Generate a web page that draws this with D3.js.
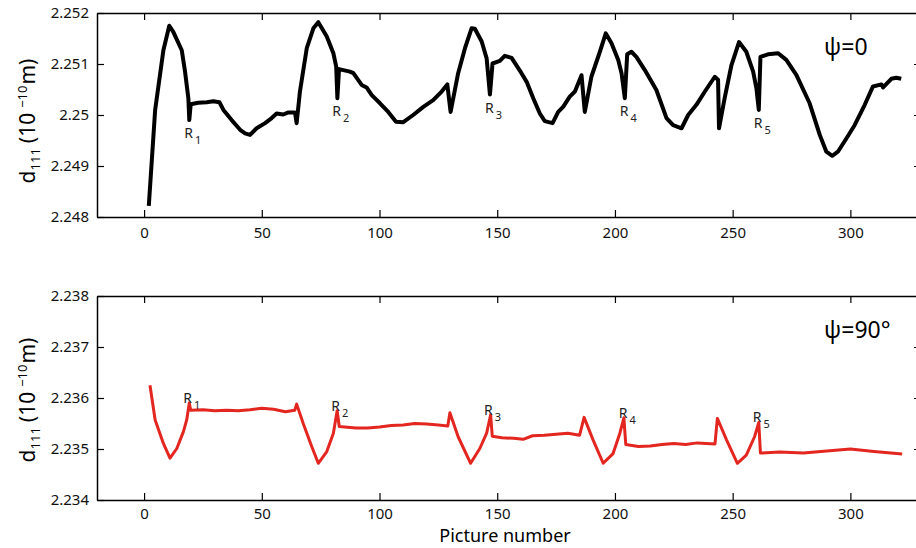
<!DOCTYPE html>
<html>
<head>
<meta charset="utf-8">
<script src="https://cdn.jsdelivr.net/npm/d3@7"></script>
<style>
  html, body { margin: 0; padding: 0; background: #fff; }
  svg { display: block; font-family: "Noto Sans", "DejaVu Sans", sans-serif; }
</style>
</head>
<body>
<svg id="chart" width="916" height="548"></svg>
<script>
// ---------- DATA ----------
const xTicks = [0, 50, 100, 150, 200, 250, 300];
const topYTicks = [2.248, 2.249, 2.25, 2.251, 2.252];
const botYTicks = [2.234, 2.235, 2.236, 2.237, 2.238];

// psi = 0 series (picture number, d111)
const topPics = [2, 4.7, 8.2, 10.7, 12.4, 16, 17.4, 18.8, 19.2, 19.8, 23, 26.6, 29.4, 32, 33.7, 37.2, 40.8, 42.9, 45, 47.8,
  51.4, 54.2, 56.3, 59.1, 61.3, 64.1, 64.8, 66.2, 69.1, 71.9, 74, 77.6, 80.4, 81.6, 82.1, 82.8, 87.4, 88.9, 92.4, 94.5,
  96.7, 100.2, 103.7, 107, 110.1, 114.3, 118.6, 122.8, 126.4, 128.8, 130.2, 133.4, 136.3, 139.1, 140.5, 143.4, 145.5, 146.9, 148, 151.1,
  153.2, 156.1, 160.3, 162.5, 165.3, 168.1, 170.2, 173.5, 175.9, 178, 180.8, 183, 185.8, 187.2, 190, 193.6, 196.1, 198.5, 201.4, 202.8,
  204.2, 205.2, 207, 209.1, 212.7, 217.6, 221.9, 224.7, 228.3, 231.1, 234.6, 238.2, 242.4, 243.8, 244.2, 246.6, 249.5, 252.7, 255.8, 258.7,
  260.1, 261.1, 261.8, 265, 269.3, 272.8, 277.1, 282.7, 287, 289.8, 292.3, 294.7, 298.3, 301.8, 306.1, 309.6, 313.2, 313.9, 317.4, 319.5, 321.6];
const topVals = [2.24822, 2.2501, 2.25127, 2.25175, 2.25163, 2.25127, 2.25085, 2.25033, 2.2499, 2.25021, 2.25024, 2.25025, 2.25027, 2.25025, 2.2501, 2.2499, 2.24971, 2.24964, 2.24961, 2.24974,
  2.24984, 2.24994, 2.25003, 2.25001, 2.25005, 2.25005, 2.24984, 2.25046, 2.25131, 2.2517, 2.25182, 2.25154, 2.25121, 2.25095, 2.25033, 2.2509, 2.25085, 2.25082, 2.25059, 2.25054,
  2.25039, 2.25023, 2.25006, 2.24987, 2.24986, 2.25, 2.25016, 2.25029, 2.25046, 2.2506, 2.25006, 2.25082, 2.25131, 2.2517, 2.25169, 2.25144, 2.25111, 2.2504, 2.25101, 2.25106,
  2.25116, 2.25112, 2.25082, 2.25065, 2.25033, 2.25003, 2.24988, 2.24984, 2.25006, 2.25016, 2.25036, 2.25046, 2.25078, 2.25006, 2.25075, 2.25124, 2.2516, 2.25141, 2.25108, 2.25082,
  2.25033, 2.25119, 2.25124, 2.25114, 2.25088, 2.25049, 2.24994, 2.2498, 2.24974, 2.25, 2.2502, 2.25046, 2.25075, 2.25069, 2.24974, 2.25033, 2.25098, 2.25143, 2.25124, 2.25085,
  2.25052, 2.2501, 2.25114, 2.25119, 2.25121, 2.25108, 2.25078, 2.25023, 2.24961, 2.24928, 2.2492, 2.24928, 2.24954, 2.2498, 2.2502, 2.25056, 2.2506, 2.25054, 2.25071, 2.25073, 2.25071];

// psi = 90 series
const botPics = [2.5, 4.7, 8.2, 11, 13.9, 16.7, 18.1, 19.2, 19.8, 25, 30, 35, 40, 45, 50, 55, 60, 64, 64.8, 67.6,
  71.2, 74, 77.6, 80.4, 82, 82.9, 90, 95, 100, 105, 110, 115, 120, 125, 129, 129.9, 133.4, 138.7, 142.6, 145.5,
  147.2, 147.9, 152, 157, 161, 165, 170, 175, 180, 185, 186.9, 190.7, 195, 199.2, 202.1, 203.8, 204.6, 210, 215, 220,
  225, 230, 235, 242.5, 243.5, 247.4, 252, 255.8, 259.3, 261.1, 261.8, 270, 280, 290, 300, 310, 322];
const botVals = [2.23625, 2.23557, 2.23511, 2.23482, 2.23501, 2.23534, 2.23557, 2.2359, 2.23576, 2.23577, 2.23575, 2.23576, 2.23575, 2.23577, 2.2358, 2.23578, 2.23573, 2.23576, 2.23588, 2.2355,
  2.23505, 2.23472, 2.23495, 2.23531, 2.23575, 2.23544, 2.23541, 2.23541, 2.23543, 2.23546, 2.23547, 2.2355, 2.23549, 2.23547, 2.23545, 2.23571, 2.23524, 2.23472, 2.23501, 2.23531,
  2.23567, 2.23525, 2.23522, 2.23521, 2.23519, 2.23526, 2.23527, 2.23529, 2.23531, 2.23527, 2.23562, 2.23518, 2.23472, 2.23491, 2.23531, 2.23561, 2.23509, 2.23505, 2.23506, 2.23509,
  2.23511, 2.23509, 2.23512, 2.2351, 2.2356, 2.23518, 2.23472, 2.23488, 2.23524, 2.23552, 2.23492, 2.23494, 2.23492, 2.23496, 2.235, 2.23495, 2.2349];

// R annotations
const rSubs = ["1", "2", "3", "4", "5"];
const rPics = [19.2, 82.1, 146.9, 204.2, 261.1];
const rTopVals = [2.2499, 2.25033, 2.2504, 2.25033, 2.2501];
const rBotVals = [2.2359, 2.23575, 2.23567, 2.23561, 2.23552];

const panelTitles = ["\u03C8=0", "\u03C8=90\u00B0"];

// ---------- DRAW ----------
const svg = d3.select("#chart");
const x = d3.scaleLinear().domain([-20, 330]).range([97, 921]);

function panel(opt) {
  const y = d3.scaleLinear().domain(opt.domain).range(opt.range);
  const g = svg.append("g");
  const [yb, yt] = opt.range;

  const fmt = d3.format(".3~f");
  g.append("g").attr("transform", `translate(0,${yb})`)
    .call(d3.axisBottom(x).tickValues(xTicks).tickSizeInner(-7).tickSizeOuter(0).tickPadding(opt.xPad).tickFormat(d3.format("d")));
  g.append("g").attr("transform", `translate(0,${yt})`)
    .call(d3.axisTop(x).tickValues(xTicks).tickSizeInner(-7).tickSizeOuter(0).tickFormat(""));
  g.append("g").attr("transform", `translate(97,0)`)
    .call(d3.axisLeft(y).tickValues(opt.ticks).tickSizeInner(-7).tickSizeOuter(0).tickPadding(8).tickFormat(fmt));
  g.append("g").attr("transform", `translate(921,0)`)
    .call(d3.axisRight(y).tickValues(opt.ticks).tickSizeInner(-7).tickSizeOuter(0).tickFormat(""));

  g.selectAll(".domain").attr("stroke", "#000").attr("stroke-width", 1.5);
  g.selectAll(".tick line").attr("stroke", "#000").attr("stroke-width", 1.2);
  g.selectAll(".tick text").attr("fill", "#111").attr("font-size", 15)
    .attr("font-family", "'Noto Sans', sans-serif");

  const data = opt.pics.map((p, i) => [p, opt.vals[i]]);
  g.append("path").datum(data)
    .attr("fill", "none").attr("stroke", opt.color).attr("stroke-width", opt.width)
    .attr("stroke-linejoin", "round").attr("stroke-linecap", "butt")
    .attr("d", d3.line().x(d => x(d[0])).y(d => y(d[1])));

  rPics.forEach((p, i) => {
    const t = g.append("text")
      .attr("x", x(p) + opt.rdx)
      .attr("y", y(opt.rvals[i]) + opt.rdy)
      .attr("font-size", 14).attr("fill", "#222");
    t.append("tspan").text("R");
    t.append("tspan").attr("dx", 2).attr("dy", 6).attr("font-size", 11).text(rSubs[i]);
  });

  g.append("text").attr("x", 824).attr("y", opt.titleY)
    .attr("font-size", opt.titleSize).attr("fill", "#000").text(opt.title);

  const lab = g.append("text")
    .attr("transform", `translate(35,${opt.labelCY}) rotate(-90)`)
    .attr("text-anchor", "middle").attr("font-size", 21).attr("fill", "#000");
  lab.append("tspan").text("d");
  lab.append("tspan").attr("dy", 5).attr("font-size", 13).text("111");
  lab.append("tspan").attr("dy", -5).attr("dx", 5).text("(10");
  lab.append("tspan").attr("dy", -8).attr("dx", 5).attr("font-size", 13).text("\u221210");
  lab.append("tspan").attr("dy", 8).attr("dx", 1).text("m)");
}

panel({
  domain: [2.248, 2.252], range: [217, 13], ticks: topYTicks,
  pics: topPics, vals: topVals, color: "#000", width: 4, xPad: 10,
  rvals: rTopVals, rdx: -5, rdy: 18,
  title: panelTitles[0], titleY: 55, titleSize: 23, labelCY: 121
});
panel({
  domain: [2.234, 2.238], range: [500, 296], ticks: botYTicks,
  pics: botPics, vals: botVals, color: "#e3261f", width: 3, xPad: 8,
  rvals: rBotVals, rdx: -6, rdy: 0,
  title: panelTitles[1], titleY: 338, titleSize: 23, labelCY: 400
});

svg.append("text").attr("x", 505).attr("y", 542).attr("text-anchor", "middle")
  .attr("font-size", 18).attr("fill", "#000").text("Picture number");
</script>
</body>
</html>
